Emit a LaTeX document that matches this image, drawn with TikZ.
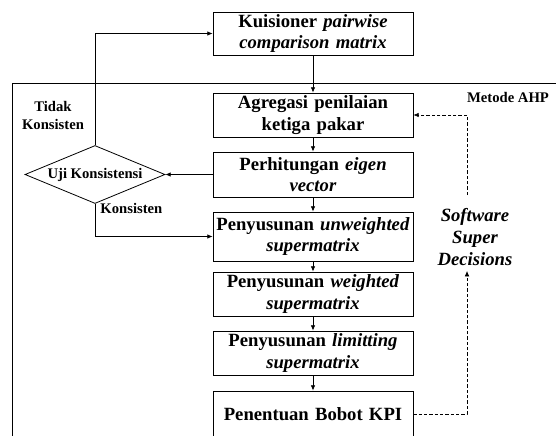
\documentclass[tikz,border=0pt]{standalone}
\usepackage{fontspec}
\setmainfont{Liberation Serif}
\usetikzlibrary{shapes.geometric,arrows.meta}

\begin{document}
\begin{tikzpicture}[x=0.75pt,y=-0.75pt,line width=0.6pt,
    >={Latex[length=4pt,width=3.5pt]},
    kotak/.style={draw,minimum width=150pt,text width=146pt,align=center,
      inner sep=0pt,font=\fontsize{14}{16}\selectfont\bfseries},
    teks/.style={align=center,inner sep=0pt,
      font=\fontsize{11}{13}\selectfont\bfseries},
    putus/.style={dash pattern=on 2.5pt off 1.5pt,line width=0.5pt}]
    \clip (0,0) rectangle (556,435); % ukuran gambar
    \draw (12,445) -- (12,83) -- (560,83); % bingkai metode AHP
    \node[teks] (ahp) at (508,97) {Metode AHP};
    % kotak proses
    \node[kotak,minimum height=32.25pt] (kuis) at (313,33.5)
         {Kuisioner \textit{pairwise}\\\textit{comparison matrix}};
    \node[kotak,minimum height=33pt] (agr) at (313,115)
         {Agregasi penilaian\\ketiga pakar};
    \node[kotak,minimum height=33.75pt] (eig) at (313,174.5)
         {Perhitungan \textit{eigen}\\\textit{vector}};
    \node[kotak,minimum height=36.75pt] (unw) at (313,236.5)
         {Penyusunan \textit{unweighted}\\\textit{supermatrix}};
    \node[kotak,minimum height=33pt] (wgt) at (313,294)
         {Penyusunan \textit{weighted}\\\textit{supermatrix}};
    \node[kotak,minimum height=33pt] (lim) at (313,353)
         {Penyusunan \textit{limitting}\\\textit{supermatrix}};
    \node[kotak,minimum height=34.5pt] (bobot) at (313,414)
         {Penentuan Bobot KPI};
    % uji konsistensi
    \node[draw,diamond,aspect=2.4,inner sep=0pt,minimum width=105pt,
          minimum height=43.5pt,font=\fontsize{11}{13}\selectfont\bfseries]
         (uji) at (95,174.5) {Uji Konsistensi};
    \node[teks] (tidak) at (53,115.5) {Tidak\\Konsisten};
    \node[teks,anchor=west] (kons) at (100,208) {Konsisten};
    % software super decisions
    \node[align=center,inner sep=0pt,
          font=\fontsize{14}{16.5}\selectfont\bfseries\itshape]
         (soft) at (475,237) {Software\\Super\\Decisions};
    \coordinate (sdTop) at (467,195);
    \coordinate (sdBot) at (467,271);
    % panah alur
    \draw [->] (kuis) -- (agr);
    \draw [->] (agr) -- (eig);
    \draw [->] (eig) -- (unw);
    \draw [->] (unw) -- (wgt);
    \draw [->] (wgt) -- (lim);
    \draw [->] (lim) -- (bobot);
    \draw [->] (eig.west) -- (uji.east);
    \draw [->] (uji.north) |- (kuis.west); % tidak konsisten
    \draw [->] (uji.south) |- (unw.west); % konsisten
    \draw [->,putus] (bobot.east) -| (sdBot);
    \draw [->,putus] (sdTop) |- (agr.east);
\end{tikzpicture}
\end{document}
